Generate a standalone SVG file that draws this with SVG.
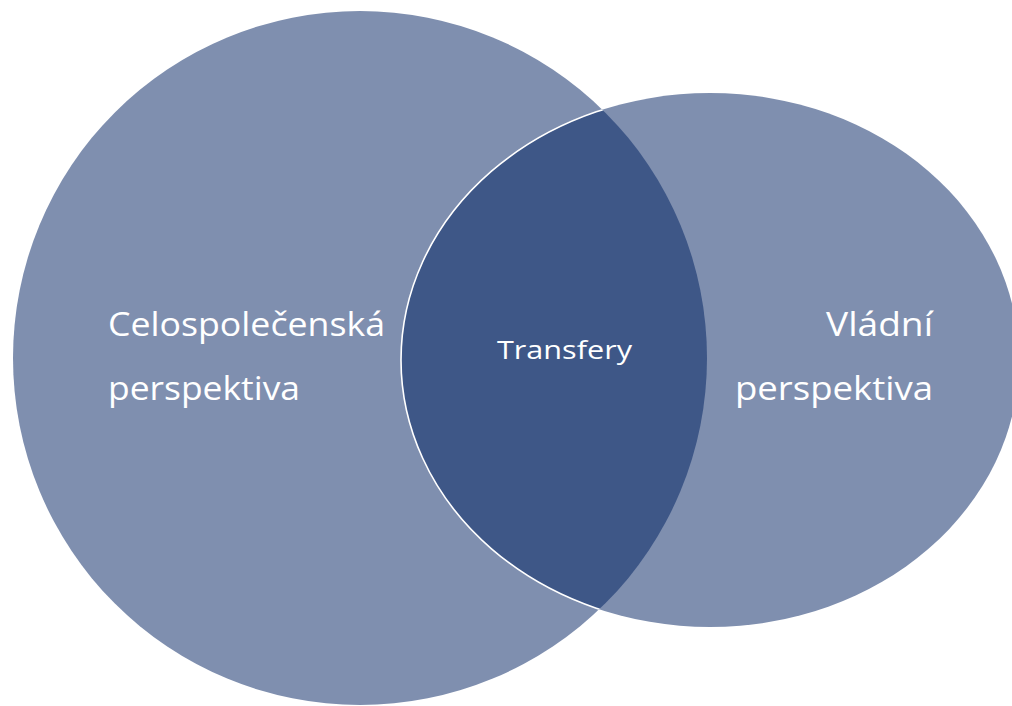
<svg xmlns="http://www.w3.org/2000/svg" width="1012" height="706" viewBox="0 0 1012 706">
<style>
.set{fill:#7F8FAF;}
.lens{fill:#3E5787;}
.edge{fill:none;stroke:#FFFFFF;stroke-width:1.6;}
.lbl{fill:#FFFFFF;font-family:"Open Sans","Liberation Sans",sans-serif;}
.big{font-size:32px;}
.mid{font-size:25px;}
</style>
<defs>
<clipPath id="clipCircle"><circle cx="360" cy="358" r="347"/></clipPath>
</defs>
<rect width="1012" height="706" fill="#FFFFFF"/>
<g id="celospolecenska">
<circle class="set" cx="360" cy="358" r="347"/>
</g>
<g id="vladni">
<ellipse class="set" cx="710" cy="360" rx="309" ry="267"/>
</g>
<g id="transfery">
<ellipse class="lens" cx="710" cy="360" rx="309" ry="267" clip-path="url(#clipCircle)"/>
<ellipse class="edge" cx="710" cy="360" rx="309" ry="267" clip-path="url(#clipCircle)"/>
</g>
<g id="connectors"></g>
<g id="labels">
<text class="lbl big" x="108" y="336" textLength="277" lengthAdjust="spacingAndGlyphs">Celospolečenská</text>
<text class="lbl big" x="108" y="400" textLength="192" lengthAdjust="spacingAndGlyphs">perspektiva</text>
<text class="lbl mid" x="497" y="359" textLength="135" lengthAdjust="spacingAndGlyphs">Transfery</text>
<text class="lbl big" x="826" y="336" textLength="107" lengthAdjust="spacingAndGlyphs">Vládní</text>
<text class="lbl big" x="735" y="400" textLength="198" lengthAdjust="spacingAndGlyphs">perspektiva</text>
</g>
</svg>
